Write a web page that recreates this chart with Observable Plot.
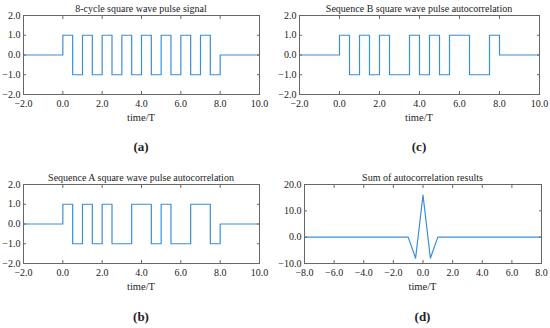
<!DOCTYPE html>
<html>
<head>
<meta charset="utf-8">
<script src="https://cdn.jsdelivr.net/npm/d3@7"></script>
<script src="https://cdn.jsdelivr.net/npm/@observablehq/plot@0.6"></script>
<style>
  html, body { margin: 0; padding: 0; background: #fff; }
  #root { position: relative; width: 550px; height: 328px; overflow: hidden; font-family: "Liberation Serif", "DejaVu Serif", serif; color: #222; }
  .panel { position: absolute; }
  .txt { position: absolute; white-space: nowrap; transform: translate(-50%, -50%); }
  .title { font-size: 10px; }
  .xlab { font-size: 10.5px; }
  .cap { font-size: 13px; font-weight: bold; }
  svg text { font-family: "Liberation Serif", serif; }
</style>
</head>
<body>
<div id="root"></div>
<script>
// ---- Data ----
const chipDuration = 0.5;
const cycle8Chips = [1, -1, 1, -1, 1, -1, 1, -1, 1, -1, 1, -1, 1, -1, 1, -1];
const seqAChips   = [1, -1, 1, -1, 1, -1, -1, 1, 1, -1, 1, -1, -1, 1, 1, -1];
const seqBChips   = [1, -1, 1, -1, 1, -1, -1, 1, -1, 1, -1, 1, 1, -1, -1, 1];
const sumTimes  = [-8, -1, -0.5, 0, 0.5, 1, 8];
const sumValues = [0, 0, -8, 16, -8, 0, 0];

const squareXTicks = [-2, 0, 2, 4, 6, 8, 10];
const squareYTicks = [-2, -1, 0, 1, 2];
const sumXTicks = [-8, -6, -4, -2, 0, 2, 4, 6, 8];
const sumYTicks = [-10, 0, 10, 20];

const titles = {
  a: "8-cycle square wave pulse signal",
  b: "Sequence A square wave pulse autocorrelation",
  c: "Sequence B square wave pulse autocorrelation",
  d: "Sum of autocorrelation results"
};
const xLabel = "time/T";

function stepRows(chips) {
  const rows = [{t: -2, v: 0}];
  chips.forEach((c, i) => rows.push({t: i * chipDuration, v: c}));
  const end = chips.length * chipDuration;
  rows.push({t: end, v: 0});
  rows.push({t: 10, v: 0});
  return rows;
}

const lineColor = "#3a8fd8";
const frameColor = "#666";
const fmt = d3.format(".1f");

function makePlot({rows, curve, xDomain, yDomain, xTicks, yTicks, ml, mr, mt, mb}) {
  return Plot.plot({
    width: 275,
    height: 130,
    marginLeft: ml, marginRight: mr, marginTop: mt, marginBottom: mb,
    style: {fontFamily: "'Liberation Serif', serif", fontSize: "10px", color: "#222", background: "transparent"},
    x: {domain: xDomain},
    y: {domain: yDomain},
    marks: [
      Plot.line(rows, {x: "t", y: "v", curve, stroke: lineColor, strokeWidth: 1.2}),
      Plot.axisX(xTicks, {anchor: "bottom", tickSize: -3, tickPadding: 8, tickFormat: fmt, stroke: frameColor, label: null}),
      Plot.axisX(xTicks, {anchor: "top", tickSize: -3, tickFormat: () => "", stroke: frameColor, label: null}),
      Plot.axisY(yTicks, {anchor: "left", tickSize: -3, tickPadding: 6, tickFormat: fmt, stroke: frameColor, label: null}),
      Plot.axisY(yTicks, {anchor: "right", tickSize: -3, tickFormat: () => "", stroke: frameColor, label: null}),
      Plot.frame({stroke: frameColor, strokeWidth: 1})
    ]
  });
}

const root = document.getElementById("root");
function addPanel(left, top, svg, key, frameL, frameR, titleY, labY, capY) {
  const div = document.createElement("div");
  div.className = "panel";
  div.style.left = left + "px";
  div.style.top = top + "px";
  div.appendChild(svg);
  root.appendChild(div);
  const cx = (frameL + frameR) / 2;
  const add = (cls, text, x, y) => {
    const t = document.createElement("div");
    t.className = "txt " + cls;
    t.textContent = text;
    t.style.left = x + "px";
    t.style.top = y + "px";
    root.appendChild(t);
  };
  add("title", titles[key], cx, titleY);
  add("xlab", xLabel, cx, labY);
  add("cap", "(" + key + ")", cx, capY);
}

const sqCommon = {curve: "step-after", xDomain: [-2, 10], yDomain: [-2, 2], xTicks: squareXTicks, yTicks: squareYTicks};

addPanel(0, 0, makePlot({...sqCommon, rows: stepRows(cycle8Chips), ml: 23, mr: 16, mt: 15, mb: 36}), "a", 23, 259, 8, 117, 147);
addPanel(275, 0, makePlot({...sqCommon, rows: stepRows(seqBChips), ml: 24, mr: 11, mt: 15, mb: 36}), "c", 299, 539, 8, 117, 147);
addPanel(0, 164, makePlot({...sqCommon, rows: stepRows(seqAChips), ml: 23, mr: 16, mt: 20, mb: 31}), "b", 23, 259, 177, 286, 317);
addPanel(275, 164, makePlot({
  rows: sumTimes.map((t, i) => ({t, v: sumValues[i]})), curve: "linear",
  xDomain: [-8, 8], yDomain: [-10, 20], xTicks: sumXTicks, yTicks: sumYTicks,
  ml: 29, mr: 9, mt: 20, mb: 31
}), "d", 304, 541, 177, 286, 317);
</script>
</body>
</html>
